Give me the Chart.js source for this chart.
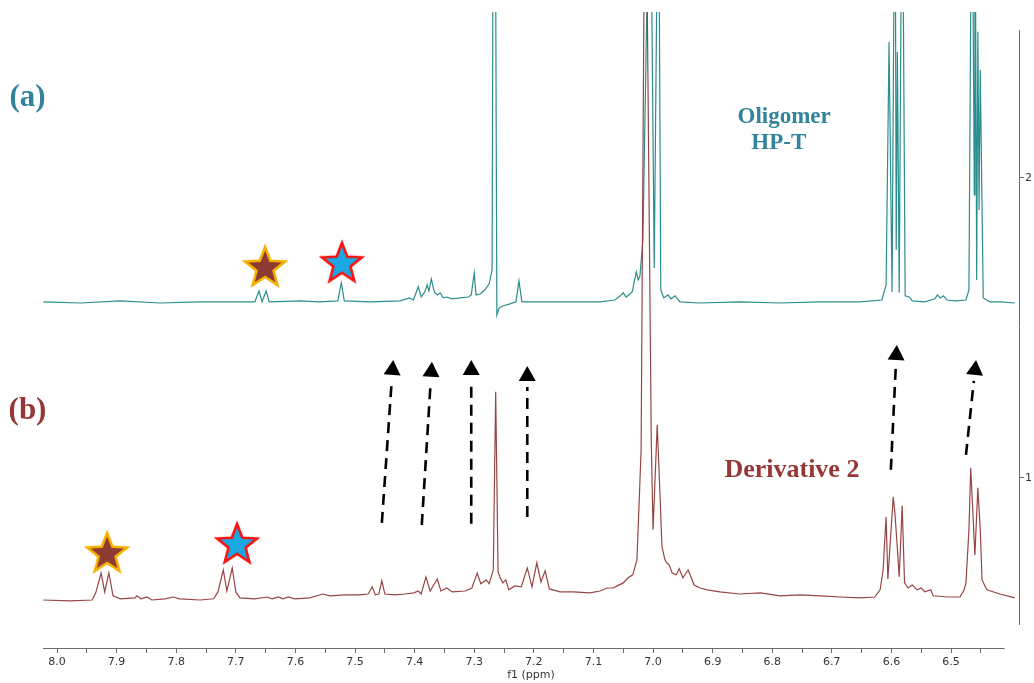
<!DOCTYPE html>
<html>
<head>
<meta charset="utf-8">
<title>f1 (ppm)</title>
<script src="https://cdn.jsdelivr.net/npm/chart.js@4/dist/chart.umd.min.js"></script>
<style>
  html, body { margin: 0; padding: 0; background: #fff; }
  #wrap { width: 1034px; height: 683px; position: relative; }
</style>
</head>
<body>
<div id="wrap"><canvas id="nmr-chart"></canvas></div>
<script>
// (a) Oligomer HP-T, upper trace
const oligomerPpm = [
  8.023, 7.961, 7.894, 7.827, 7.760, 7.693, 7.668, 7.661, 7.656, 7.649,
  7.644, 7.592, 7.559, 7.529, 7.523, 7.518, 7.475, 7.424, 7.409, 7.402,
  7.394, 7.389, 7.383, 7.379, 7.376, 7.372, 7.367, 7.362, 7.357, 7.352,
  7.346, 7.337, 7.324, 7.310, 7.305, 7.300, 7.297, 7.290, 7.282, 7.275,
  7.270, 7.268, 7.265, 7.262, 7.258, 7.252, 7.240, 7.230, 7.225, 7.220,
  7.190, 7.139, 7.089, 7.064, 7.055, 7.050, 7.045, 7.035, 7.028, 7.025,
  7.022, 7.017, 7.005, 6.998, 6.991, 6.987, 6.982, 6.975, 6.970, 6.963,
  6.955, 6.921, 6.854, 6.787, 6.720, 6.653, 6.616, 6.609, 6.604, 6.599,
  6.594, 6.592, 6.590, 6.587, 6.582, 6.577, 6.570, 6.565, 6.544, 6.527,
  6.523, 6.518, 6.513, 6.507, 6.493, 6.475, 6.470, 6.465, 6.461, 6.460,
  6.457, 6.455, 6.453, 6.451, 6.446, 6.435, 6.418, 6.393
];
const oligomerIntensity = [
  1.587, 1.583, 1.590, 1.583, 1.587, 1.587, 1.587, 1.623, 1.587, 1.623,
  1.587, 1.590, 1.587, 1.590, 1.650, 1.590, 1.587, 1.590, 1.600, 1.593,
  1.637, 1.603, 1.620, 1.643, 1.623, 1.663, 1.620, 1.610, 1.617, 1.600,
  1.603, 1.597, 1.600, 1.603, 1.610, 1.683, 1.610, 1.613, 1.627, 1.647,
  1.693, 3.200, 3.200, 1.543, 1.567, 1.573, 1.580, 1.587, 1.657, 1.587,
  1.587, 1.587, 1.587, 1.593, 1.607, 1.617, 1.603, 1.620, 1.687, 1.660,
  1.673, 1.793, 3.200, 1.700, 3.200, 1.627, 1.600, 1.610, 1.597, 1.607,
  1.587, 1.583, 1.587, 1.583, 1.587, 1.587, 1.593, 1.643, 2.453, 1.620,
  3.200, 1.760, 2.420, 1.617, 3.200, 1.607, 1.603, 1.590, 1.587, 1.597,
  1.610, 1.600, 1.607, 1.593, 1.590, 1.593, 1.627, 3.200, 1.943, 3.200,
  1.660, 2.487, 1.893, 2.360, 1.600, 1.587, 1.587, 1.583
];

// (b) Derivative 2, lower trace
const derivativePpm = [
  8.023, 7.978, 7.941, 7.935, 7.926, 7.920, 7.913, 7.906, 7.894, 7.869,
  7.866, 7.859, 7.849, 7.841, 7.819, 7.805, 7.794, 7.760, 7.737, 7.730,
  7.721, 7.715, 7.706, 7.700, 7.693, 7.668, 7.648, 7.639, 7.629, 7.621,
  7.612, 7.601, 7.576, 7.554, 7.542, 7.517, 7.492, 7.478, 7.471, 7.466,
  7.460, 7.455, 7.450, 7.433, 7.416, 7.401, 7.394, 7.389, 7.381, 7.374,
  7.362, 7.356, 7.346, 7.337, 7.315, 7.304, 7.295, 7.289, 7.280, 7.275,
  7.268, 7.264, 7.260, 7.257, 7.252, 7.247, 7.242, 7.232, 7.221, 7.211,
  7.203, 7.195, 7.188, 7.181, 7.174, 7.156, 7.134, 7.106, 7.089, 7.077,
  7.067, 7.060, 7.050, 7.042, 7.034, 7.027, 7.020, 7.013, 7.003, 7.000,
  6.993, 6.988, 6.985, 6.980, 6.977, 6.973, 6.968, 6.961, 6.956, 6.950,
  6.941, 6.931, 6.921, 6.909, 6.888, 6.854, 6.820, 6.787, 6.753, 6.720,
  6.686, 6.653, 6.628, 6.619, 6.614, 6.609, 6.606, 6.597, 6.594, 6.591,
  6.587, 6.582, 6.578, 6.572, 6.565, 6.557, 6.550, 6.544, 6.534, 6.530,
  6.507, 6.485, 6.478, 6.475, 6.470, 6.467, 6.460, 6.455, 6.451, 6.448,
  6.440, 6.418, 6.393
];
const derivativeIntensity = [
  0.593, 0.590, 0.593, 0.617, 0.683, 0.620, 0.683, 0.607, 0.597, 0.600,
  0.607, 0.597, 0.603, 0.593, 0.597, 0.603, 0.597, 0.593, 0.597, 0.620,
  0.693, 0.623, 0.700, 0.620, 0.600, 0.597, 0.603, 0.597, 0.603, 0.597,
  0.603, 0.597, 0.600, 0.613, 0.607, 0.610, 0.610, 0.613, 0.637, 0.610,
  0.613, 0.657, 0.613, 0.610, 0.613, 0.617, 0.623, 0.613, 0.670, 0.623,
  0.663, 0.623, 0.633, 0.620, 0.623, 0.633, 0.683, 0.647, 0.660, 0.647,
  0.693, 1.287, 0.687, 0.670, 0.650, 0.660, 0.627, 0.640, 0.637, 0.700,
  0.637, 0.717, 0.653, 0.690, 0.630, 0.620, 0.620, 0.617, 0.623, 0.633,
  0.633, 0.640, 0.650, 0.667, 0.677, 0.727, 1.093, 3.300, 1.127, 0.827,
  1.177, 0.927, 0.770, 0.727, 0.717, 0.710, 0.683, 0.677, 0.697, 0.667,
  0.693, 0.643, 0.633, 0.627, 0.620, 0.613, 0.617, 0.607, 0.610, 0.607,
  0.603, 0.600, 0.603, 0.627, 0.693, 0.870, 0.663, 0.937, 0.877, 0.793,
  0.670, 0.907, 0.650, 0.633, 0.643, 0.627, 0.633, 0.620, 0.627, 0.607,
  0.603, 0.603, 0.627, 0.650, 0.827, 1.033, 0.743, 0.967, 0.827, 0.660,
  0.627, 0.613, 0.600
];

// star markers above the assigned signals
const brownStarPpm = [7.651, 7.916];
const brownStarLevel = [1.703, 0.750];
const blueStarPpm = [7.522, 7.698];
const blueStarLevel = [1.717, 0.780];

// shift arrows: [ppm tail, level tail, ppm tip, level tip]
const shiftArrows = [
  [7.455, 0.850, 7.436, 1.393],
  [7.388, 0.843, 7.371, 1.387],
  [7.305, 0.847, 7.305, 1.393],
  [7.211, 0.870, 7.211, 1.373],
  [6.601, 1.027, 6.591, 1.443],
  [6.475, 1.077, 6.458, 1.393]
];

const xTickLabels = ['8.0', '7.9', '7.8', '7.7', '7.6', '7.5', '7.4', '7.3', '7.2', '7.1', '7.0', '6.9', '6.8', '6.7', '6.6', '6.5'];
const yTickLabels = ['1', '2'];

const TEAL = '#2b8e8e';
const BROWN = '#974545';

function toPoints(xs, ys) {
  return xs.map((x, i) => ({ x: x, y: ys[i] }));
}

function makeStar(fill, outline) {
  const c = document.createElement('canvas');
  c.width = 52; c.height = 52;
  const g = c.getContext('2d');
  g.beginPath();
  for (let i = 0; i < 10; i++) {
    const r = i % 2 === 0 ? 21 : 9;
    const a = -Math.PI / 2 + i * Math.PI / 5;
    const px = 26 + r * Math.cos(a), py = 27 + r * Math.sin(a);
    if (i === 0) g.moveTo(px, py); else g.lineTo(px, py);
  }
  g.closePath();
  g.fillStyle = fill;
  g.fill();
  g.lineWidth = 2.6;
  g.strokeStyle = outline;
  g.stroke();
  return c;
}

const brownStar = makeStar('#8d3a33', '#f6b100');
const blueStar = makeStar('#1ba7e2', '#ff1010');

// dashed arrows, axis lines and the text labels
const overlayPlugin = {
  id: 'overlay',
  afterDraw(chart) {
    const { ctx } = chart;
    const x = chart.scales.x, y = chart.scales.y;
    ctx.save();

    // axis lines
    ctx.strokeStyle = '#6a6a6a';
    ctx.lineWidth = 1;
    ctx.beginPath();
    ctx.moveTo(x.getPixelForValue(8.0235), y.bottom + 0.5);
    ctx.lineTo(x.getPixelForValue(6.41), y.bottom + 0.5);
    ctx.moveTo(y.left + 0.5, y.getPixelForValue(2.493));
    ctx.lineTo(y.left + 0.5, y.getPixelForValue(0.51));
    ctx.stroke();

    // arrows
    ctx.fillStyle = '#000';
    ctx.strokeStyle = '#000';
    shiftArrows.forEach(a => {
      const x1 = x.getPixelForValue(a[0]), y1 = y.getPixelForValue(a[1]);
      const x2 = x.getPixelForValue(a[2]), y2 = y.getPixelForValue(a[3]);
      const len = Math.hypot(x2 - x1, y2 - y1);
      const dx = (x2 - x1) / len, dy = (y2 - y1) / len;
      const headLen = 15, headHalf = 8.5;
      const bx = x2 - dx * headLen, by = y2 - dy * headLen;
      ctx.setLineDash([11, 7]);
      ctx.lineWidth = 2.6;
      ctx.beginPath();
      ctx.moveTo(x1, y1);
      ctx.lineTo(bx - dx * 6, by - dy * 6);
      ctx.stroke();
      ctx.setLineDash([]);
      ctx.beginPath();
      ctx.moveTo(x2, y2);
      ctx.lineTo(bx - dy * headHalf, by + dx * headHalf);
      ctx.lineTo(bx + dy * headHalf, by - dx * headHalf);
      ctx.closePath();
      ctx.fill();
    });

    // labels
    ctx.textAlign = 'center';
    ctx.textBaseline = 'middle';
    const put = (text, ppm, level, font, color) => {
      ctx.font = font;
      ctx.fillStyle = color;
      ctx.fillText(text, x.getPixelForValue(ppm), y.getPixelForValue(level));
    };
    put('(a)', 8.0495, 2.267, 'bold 31px "Liberation Serif"', '#31849b');
    put('(b)', 8.0495, 1.223, 'bold 31px "Liberation Serif"', '#953734');
    put('Oligomer', 6.780, 2.203, 'bold 23px "Liberation Serif"', '#31849b');
    put('HP-T', 6.789, 2.117, 'bold 23px "Liberation Serif"', '#31849b');
    put('Derivative 2', 6.767, 1.027, 'bold 26px "Liberation Serif"', '#953734');

    ctx.restore();
  }
};

const ctx = document.getElementById('nmr-chart').getContext('2d');
new Chart(ctx, {
  type: 'line',
  data: {
    datasets: [
      {
        label: 'Derivative 2',
        data: toPoints(derivativePpm, derivativeIntensity),
        borderColor: BROWN,
        borderWidth: 1.2,
        pointRadius: 0,
        tension: 0,
        order: 1
      },
      {
        label: 'Oligomer HP-T',
        data: toPoints(oligomerPpm, oligomerIntensity),
        borderColor: TEAL,
        borderWidth: 1.2,
        pointRadius: 0,
        tension: 0,
        order: 2
      },
      {
        type: 'scatter',
        data: toPoints(brownStarPpm, brownStarLevel),
        pointStyle: brownStar,
        pointRadius: 22,
        order: 0
      },
      {
        type: 'scatter',
        data: toPoints(blueStarPpm, blueStarLevel),
        pointStyle: blueStar,
        pointRadius: 22,
        order: 0
      }
    ]
  },
  options: {
    responsive: true,
    maintainAspectRatio: false,
    animation: false,
    layout: { autoPadding: false, padding: { left: 43, top: 12, right: 0, bottom: 0 } },
    plugins: {
      legend: { display: false },
      tooltip: { enabled: false }
    },
    scales: {
      x: {
        type: 'linear',
        reverse: true,
        min: 6.386,
        max: 8.0235,
        grid: { drawOnChartArea: false, tickLength: 5, color: '#6a6a6a' },
        border: { display: false },
        afterBuildTicks: (scale) => {
          const ticks = [];
          xTickLabels.forEach(l => {
            const v = parseFloat(l);
            ticks.push({ value: v });
            ticks.push({ value: Math.round((v - 0.05) * 100) / 100 });
          });
          scale.ticks = ticks;
        },
        afterFit: (scale) => {
          scale.height = 35;
          scale.paddingLeft = 0;
          scale.paddingRight = 0;
        },
        ticks: {
          autoSkip: false,
          maxRotation: 0,
          padding: 3,
          color: '#333',
          font: { family: 'DejaVu Sans', size: 11 },
          callback: (value) => xTickLabels.find(l => Math.abs(parseFloat(l) - value) < 1e-6) || ''
        },
        title: {
          display: true,
          text: 'f1 (ppm)',
          color: '#333',
          font: { family: 'DejaVu Sans', size: 11 },
          padding: { top: 0, bottom: 1 }
        }
      },
      y: {
        type: 'linear',
        position: 'right',
        min: 0.433,
        max: 2.553,
        grid: { drawOnChartArea: false, tickLength: 5, color: '#6a6a6a' },
        border: { display: false },
        afterBuildTicks: (scale) => {
          scale.ticks = yTickLabels.map(l => ({ value: parseFloat(l) }));
        },
        afterFit: (scale) => {
          scale.width = 15;
          scale.paddingTop = 0;
          scale.paddingBottom = 0;
        },
        ticks: {
          padding: 1,
          color: '#333',
          font: { family: 'DejaVu Sans', size: 11 },
          callback: (value) => String(value)
        }
      }
    }
  },
  plugins: [overlayPlugin]
});
</script>
</body>
</html>
